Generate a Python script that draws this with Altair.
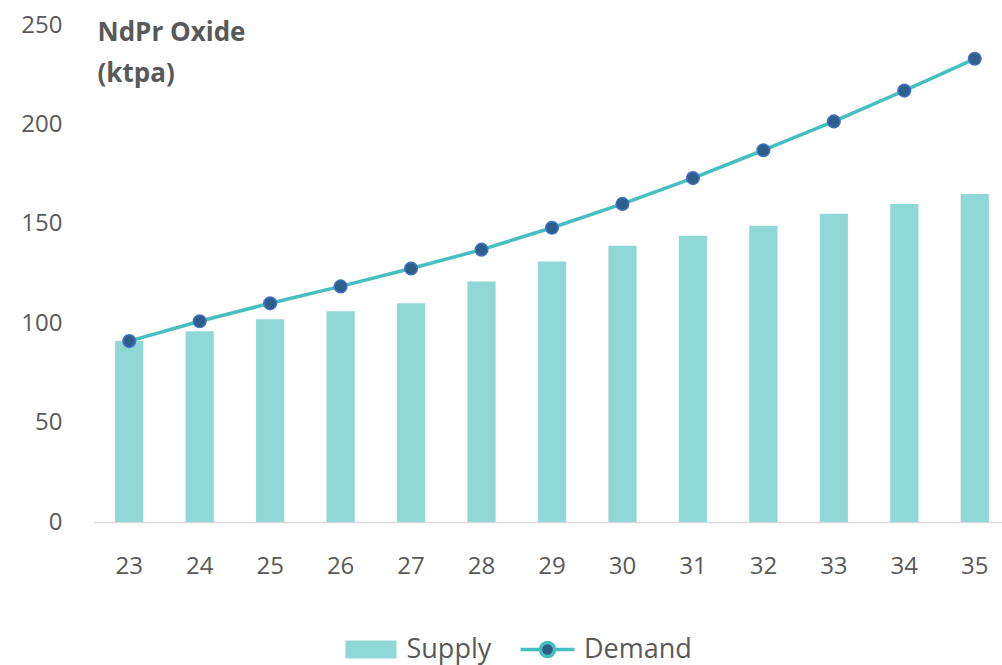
import altair as alt
import pandas as pd

years = ["23", "24", "25", "26", "27", "28", "29", "30", "31", "32", "33", "34", "35"]
supply = [91, 96, 102, 106, 110, 121, 131, 139, 144, 149, 155, 160, 165]
demand = [91, 101, 110, 118.5, 127.5, 137, 148, 160, 173, 187, 201.5, 217, 233]
y_ticks = [0, 50, 100, 150, 200, 250]

sdf = pd.DataFrame({"year": years, "value": supply, "series": ["Supply"] * len(years)})
ddf = pd.DataFrame({"year": years, "value": demand, "series": ["Demand"] * len(years)})

FONT = "Open Sans"
GREY = "#595959"
BAR = "#90D8D6"
LINE = "#45BFBF"
DOT = "#2D5F8A"
DOT_EDGE = "#4472C4"

x_enc = alt.X(
    "year:O",
    sort=years,
    scale=alt.Scale(paddingInner=0.6, paddingOuter=0.3, range=[0, 916]),
    axis=alt.Axis(
        title=None, labelAngle=0, ticks=False, domainColor="#D9D9D9", domainWidth=1.5,
        labelPadding=32, labelFontSize=24, labelColor=GREY, labelFont=FONT,
    ),
)
y_enc = alt.Y(
    "value:Q",
    scale=alt.Scale(domain=[0, 250], nice=False),
    axis=alt.Axis(
        values=y_ticks, grid=False, domain=False, ticks=False,
        labelPadding=32, labelFontSize=24, labelColor=GREY, labelFont=FONT,
        title=["NdPr Oxide", "(ktpa)"], titleAngle=0, titleAlign="left",
        titleBaseline="alphabetic", titleX=3, titleY=15, titleLineHeight=41,
        titleFont=FONT, titleFontSize=26, titleFontWeight="bold", titleColor=GREY,
    ),
)

bars = alt.Chart(sdf).mark_bar().encode(
    x=x_enc,
    y=y_enc,
    fill=alt.Fill(
        "series:N",
        scale=alt.Scale(domain=["Supply"], range=[BAR]),
        legend=alt.Legend(
            title=None, orient="none", legendX=263.5, legendY=611, padding=0,
            symbolType="M-2.55,-0.9H2.55V0.9H-2.55Z",
            symbolSize=400, symbolStrokeWidth=0, labelFontSize=27, labelFont=FONT,
            labelColor=GREY, labelOffset=22,
        ),
    ),
)

line = alt.Chart(ddf).mark_line(strokeWidth=3.5).encode(
    x=alt.X("year:O", sort=years),
    y=alt.Y("value:Q"),
    stroke=alt.Stroke(
        "series:N",
        scale=alt.Scale(domain=["Demand"], range=[LINE]),
        legend=alt.Legend(
            title=None, orient="none", legendX=440, legendY=611, padding=0,
            symbolType="M-2.7,0H-0.7M0.7,0H2.7M0.7,0A0.7,0.7 0 1,1 -0.7,0A0.7,0.7 0 1,1 0.7,0Z",
            symbolSize=400, symbolStrokeWidth=3.5, symbolFillColor=DOT,
            labelFontSize=27, labelFont=FONT, labelColor=GREY, labelOffset=23,
        ),
    ),
)

points = alt.Chart(ddf).mark_point(
    filled=True, fill=DOT, stroke=DOT_EDGE, strokeWidth=1.5, size=160, opacity=1
).encode(
    x=alt.X("year:O", sort=years),
    y=alt.Y("value:Q"),
)

chart = alt.layer(bars, line, points).properties(
    width=908, height=497,
    autosize=alt.AutoSizeParams(type="none"),
    padding={"left": 94, "top": 25, "right": 0, "bottom": 143},
).configure_view(stroke=None)

chart.save("out.html", embed_options={"renderer": "svg", "actions": False})
